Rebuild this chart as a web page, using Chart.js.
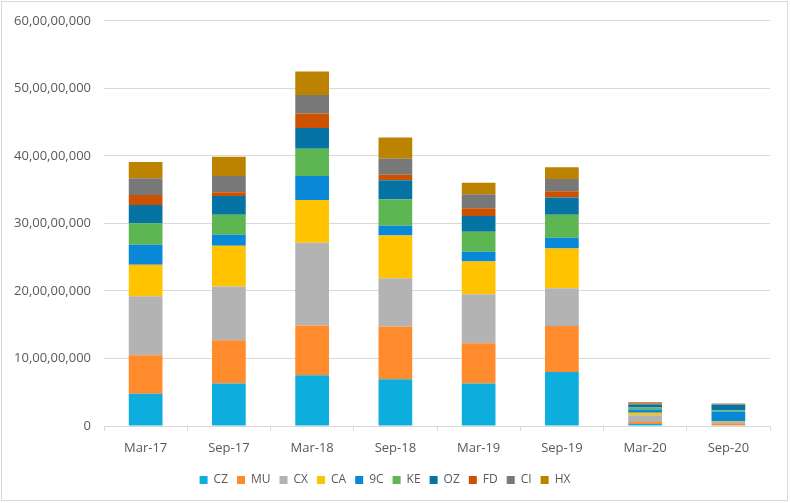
<!DOCTYPE html>
<html>
<head>
<meta charset="utf-8">
<script src="https://cdn.jsdelivr.net/npm/chart.js@4"></script>
<style>
    body { margin: 0; background: #fff; }
    #wrap { width: 790px; height: 503px; }
</style>
</head>
<body>
<div id="wrap"><canvas id="chart" width="790" height="503"></canvas></div>
<script>
// Data
const periods = ['Mar-17', 'Sep-17', 'Mar-18', 'Sep-18', 'Mar-19', 'Sep-19', 'Mar-20', 'Sep-20'];
const CZ = [47600000, 63000000, 75200000, 69300000, 63000000, 80100000, 3000000, 1000000];
const MU = [57100000, 63800000, 73800000, 78200000, 59400000, 67800000, 3000000, 3000000];
const CX = [87500000, 79700000, 122400000, 71200000, 72700000, 56100000, 10000000, 2000000];
const CA = [46700000, 60500000, 63400000, 63500000, 48300000, 59000000, 3500000, 500000];
const C9 = [29500000, 16200000, 35400000, 14300000, 14700000, 15800000, 5000000, 15000000];
const KE = [32000000, 29500000, 40300000, 38800000, 29500000, 33900000, 3000000, 2000000];
const OZ = [27000000, 28000000, 30900000, 28500000, 23200000, 25500000, 4500000, 8000000];
const FD = [14800000, 5500000, 21300000, 8300000, 11800000, 9400000, 1500000, 500000];
const CI = [24600000, 24000000, 27400000, 23600000, 20600000, 18200000, 1000000, 1000000];
const HX = [24100000, 28500000, 35000000, 31600000, 17100000, 17200000, 1000000, 500000];

const series = [
    { label: 'CZ', data: CZ, color: '#0DAEDE' },
    { label: 'MU', data: MU, color: '#FF8B2C' },
    { label: 'CX', data: CX, color: '#B3B3B3' },
    { label: 'CA', data: CA, color: '#FFC300' },
    { label: '9C', data: C9, color: '#0888D6' },
    { label: 'KE', data: KE, color: '#5EB652' },
    { label: 'OZ', data: OZ, color: '#0673A5' },
    { label: 'FD', data: FD, color: '#CC5101' },
    { label: 'CI', data: CI, color: '#787878' },
    { label: 'HX', data: HX, color: '#BB8300' }
];

// Indian digit grouping: 60,00,00,000
function formatIndian(value) {
    const s = String(Math.round(value));
    if (s.length <= 3) return s;
    const last3 = s.slice(-3);
    const rest = s.slice(0, -3).replace(/\B(?=(\d{2})+(?!\d))/g, ',');
    return rest + ',' + last3;
}

// Outer frame like the spreadsheet chart border
const framePlugin = {
    id: 'frame',
    beforeDraw: (chart) => {
        const ctx = chart.ctx;
        ctx.save();
        ctx.fillStyle = '#fff';
        ctx.fillRect(0, 0, chart.width, chart.height);
        ctx.strokeStyle = '#D9D9D9';
        ctx.lineWidth = 1;
        ctx.strokeRect(1.5, 1.5, 786, 499);
        ctx.restore();
    }
};

const font = { family: '"Open Sans", sans-serif', size: 13 };

const ctx = document.getElementById('chart').getContext('2d');
new Chart(ctx, {
    type: 'bar',
    data: {
        labels: periods,
        datasets: series.map(s => ({
            label: s.label,
            data: s.data,
            backgroundColor: s.color,
            borderWidth: 0,
            barPercentage: 0.405,
            categoryPercentage: 1
        }))
    },
    options: {
        responsive: false,
        animation: false,
        layout: {
            padding: { top: 17, right: 20, bottom: 7, left: 0 }
        },
        scales: {
            x: {
                stacked: true,
                grid: {
                    drawOnChartArea: false,
                    drawTicks: true,
                    tickLength: 5,
                    color: '#D9D9D9'
                },
                border: { color: '#D9D9D9' },
                ticks: {
                    color: '#595959',
                    font: font,
                    padding: 9,
                    maxRotation: 0
                },
                afterFit: (scale) => { scale.height = 39; }
            },
            y: {
                stacked: true,
                min: 0,
                max: 600000000,
                grid: {
                    color: '#D9D9D9',
                    drawTicks: false
                },
                border: { display: false },
                ticks: {
                    stepSize: 100000000,
                    color: '#595959',
                    font: font,
                    padding: 13,
                    callback: (value) => formatIndian(value)
                },
                afterFit: (scale) => { scale.width = 104; }
            }
        },
        plugins: {
            legend: {
                position: 'bottom',
                labels: {
                    boxWidth: 8,
                    boxHeight: 8,
                    padding: 9,
                    color: '#595959',
                    font: { family: '"Open Sans", sans-serif', size: 12 }
                }
            },
            tooltip: { enabled: false }
        }
    },
    plugins: [framePlugin]
});
</script>
</body>
</html>
